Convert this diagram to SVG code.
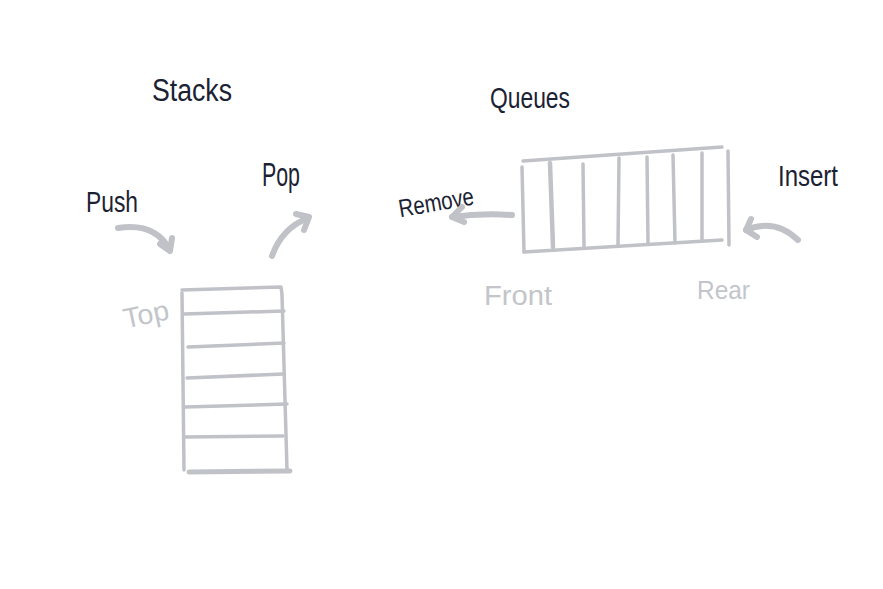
<svg xmlns="http://www.w3.org/2000/svg" width="883" height="589" viewBox="0 0 883 589">
<style>
.ink{font-family:"Liberation Sans",Arial,sans-serif;fill:#1b2233;}
.pale{font-family:"Liberation Sans",Arial,sans-serif;fill:#c3c5ca;}
.ln{fill:none;stroke:#c0c2c7;stroke-width:3.5;stroke-linecap:round;stroke-linejoin:round;}
.arr{fill:none;stroke:#c0c2c7;stroke-width:6;stroke-linecap:round;stroke-linejoin:round;}
</style>
<rect width="883" height="589" fill="#ffffff"/>
<g id="stack">
<path class="ln" d="M182 293 L184 470"/>
<path class="ln" d="M182 290 L281 287 L282 294"/>
<path class="ln" d="M282 295 L287 470"/>
<path class="ln" d="M184 314 L284 311"/>
<path class="ln" d="M188 347 L284 343"/>
<path class="ln" d="M187 378 L283 374"/>
<path class="ln" d="M185 407 L287 404"/>
<path class="ln" d="M184 437 L283 436"/>
<path class="ln" d="M189 472 L290 471" style="stroke-width:5"/>
<text class="pale" x="122" y="324" font-size="28" textLength="46" lengthAdjust="spacingAndGlyphs" transform="rotate(-12 145 310)">Top</text>
</g>
<g id="queue">
<path class="ln" d="M523 161 L722 147"/>
<path class="ln" d="M524 252 L722 240"/>
<path class="ln" d="M522 167 L524 252"/>
<path class="ln" d="M550 163 L553 247" style="stroke-width:4.5"/>
<path class="ln" d="M583 164 L584 246"/>
<path class="ln" d="M619 158 L618 246"/>
<path class="ln" d="M647 157 L648 244"/>
<path class="ln" d="M673 155 L675 243"/>
<path class="ln" d="M702 153 L702 241"/>
<path class="ln" d="M728 151 L729 245"/>
<text class="pale" x="484" y="305" font-size="27" textLength="68" lengthAdjust="spacingAndGlyphs">Front</text>
<text class="pale" x="697" y="299" font-size="25" textLength="53" lengthAdjust="spacingAndGlyphs">Rear</text>
</g>
<g id="titles">
<text class="ink" x="152" y="101" font-size="31" textLength="80" lengthAdjust="spacingAndGlyphs">Stacks</text>
<text class="ink" x="490" y="108" font-size="30" textLength="80" lengthAdjust="spacingAndGlyphs">Queues</text>
</g>
<g id="labels">
<text class="ink" x="86" y="212" font-size="30" textLength="52" lengthAdjust="spacingAndGlyphs">Push</text>
<text class="ink" x="262" y="186" font-size="34" textLength="38" lengthAdjust="spacingAndGlyphs">Pop</text>
<text class="ink" x="397" y="211" font-size="25" textLength="76" lengthAdjust="spacingAndGlyphs" transform="rotate(-10 435 196)">Remove</text>
<text class="ink" x="778" y="186" font-size="29" textLength="60" lengthAdjust="spacingAndGlyphs">Insert</text>
</g>
<g id="connectors">
<path class="arr" d="M118 228 Q155 222 170 250"/>
<path class="arr" d="M160 244 L170 251 L172 238"/>
<path class="arr" d="M272 256 Q282 228 308 218"/>
<path class="arr" d="M296 214 L309 217 L304 230"/>
<path class="arr" d="M512 215 Q480 213 452 217"/>
<path class="arr" d="M462 207 L452 217 L464 222"/>
<path class="arr" d="M798 240 Q775 218 746 230"/>
<path class="arr" d="M751 219 L746 230 L757 237"/>
</g>
</svg>
